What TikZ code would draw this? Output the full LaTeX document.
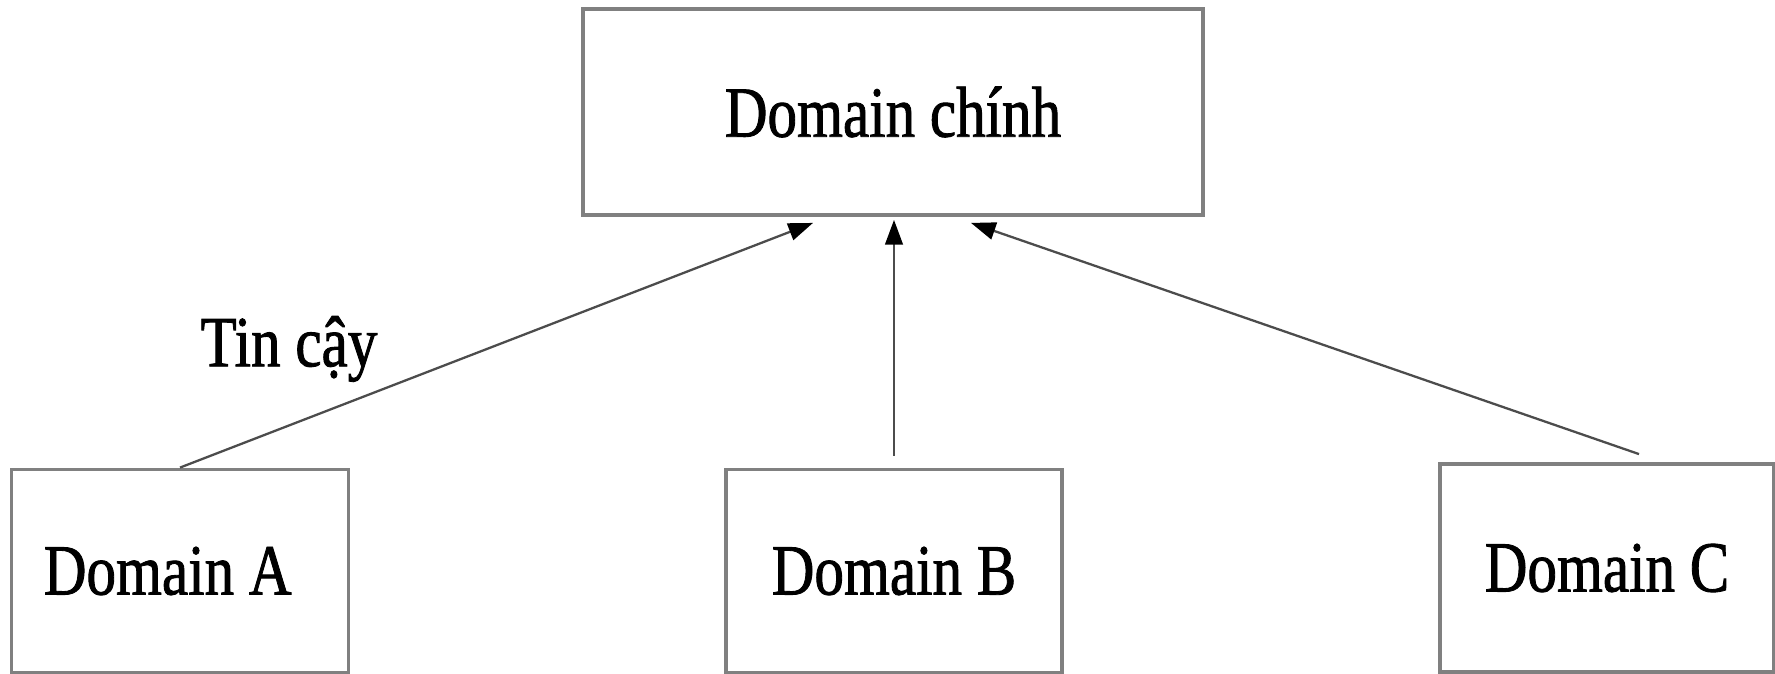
\documentclass[tikz,border=0pt]{standalone}
\usepackage{fontspec}
\setmainfont{Liberation Serif}[FakeStretch=0.82,FakeBold=1.2]
\usetikzlibrary{arrows.meta,calc}
\begin{document}
\begin{tikzpicture}[x=0.02cm,y=-0.02cm,
  dom/.style={draw=black!50,line width=2.2pt,fill=white,inner sep=0pt,font=\fontsize{41}{48}\selectfont},
  link/.style={draw=black!70,line width=1.3pt,-{Triangle[length=14pt,width=10pt,color=black]}}]
\useasboundingbox(0,0)rectangle(1775,673);
\clip(0,0)rectangle(1775,673);
\node[dom,minimum width=12.4cm,minimum height=4.12cm](top)at(893,112){Domain chính};
\node[dom,minimum width=6.74cm,minimum height=4.06cm](A)at(180,571){\hspace*{-14pt}Domain A};
\node[dom,minimum width=6.72cm,minimum height=4.06cm](B)at(894,571){Domain B};
\node[dom,minimum width=6.68cm,minimum height=4.16cm](C)at(1607,568){Domain C};
\node[font=\fontsize{41}{48}\selectfont](trust)at(289,349){Tin cậy};
\draw[link](A.north)--($(top.south)+(-80,6)$);
\draw[link]($(B.north)+(0,-12)$)--($(top.south)+(1,3)$);
\draw[link]($(C.north)+(32,-8)$)--($(top.south)+(78,6)$);
\end{tikzpicture}
\end{document}
